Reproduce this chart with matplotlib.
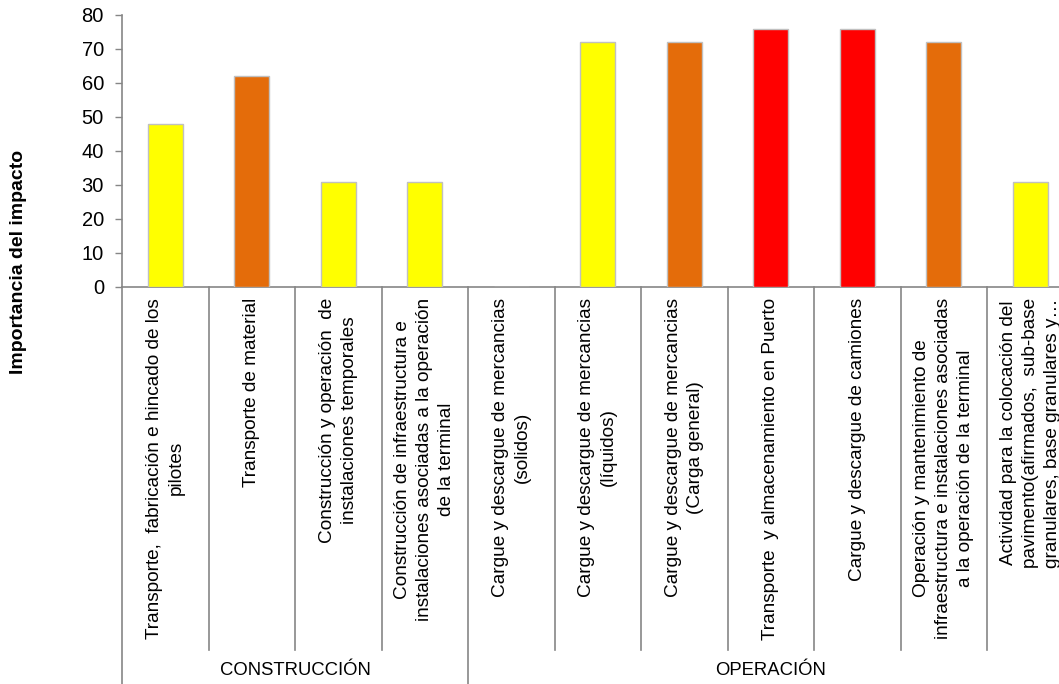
import matplotlib
matplotlib.use("Agg")
import matplotlib.pyplot as plt
import matplotlib.transforms as mtransforms

plt.rcParams['font.family'] = ['Liberation Sans', 'DejaVu Sans']

categories = [
    "Transporte,  fabricación e hincado de los\npilotes",
    "Transporte de material",
    "Construcción y operación  de\ninstalaciones temporales",
    "Construcción de infraestructura e\ninstalaciones asociadas a la operación\nde la terminal",
    "Cargue y descargue de mercancias\n(solidos)",
    "Cargue y descargue de mercancias\n(líquidos)",
    "Cargue y descargue de mercancias\n(Carga general)",
    "Transporte  y almacenamiento en Puerto",
    "Cargue y descargue de camiones",
    "Operación y mantenimiento de\ninfraestructura e instalaciones asociadas\na la operación de la terminal",
    "Actividad para la colocación del\npavimento(afirmados,  sub-base\ngranulares, base granulares y…",
]
values = [48, 62, 31, 31, 0, 72, 72, 76, 76, 72, 31]
bar_colors = ["#FFFF00", "#E46C0A", "#FFFF00", "#FFFF00", "#FFFF00", "#FFFF00",
              "#E46C0A", "#FF0000", "#FF0000", "#E46C0A", "#FFFF00"]
groups = ["CONSTRUCCIÓN", "OPERACIÓN"]
group_sizes = [4, 7]
y_ticks = [0, 10, 20, 30, 40, 50, 60, 70, 80]
y_label = "Importancia del impacto"

W, H = 1059, 684
fig = plt.figure(figsize=(W / 100, H / 100), dpi=100)
ax_left, ax_right, ax_top, ax_bottom = 122, 1073.5, 15, 287
ax = fig.add_axes([ax_left / W, 1 - ax_bottom / H, (ax_right - ax_left) / W, (ax_bottom - ax_top) / H])

n = len(categories)
xs = list(range(n))
ax.bar(xs, values, width=0.405, color=bar_colors, edgecolor="#C0C0C0", linewidth=1.0, zorder=3)

ax.set_xlim(-0.5, n - 0.5)
ax.set_ylim(0, 80)
ax.set_yticks(y_ticks)
ax.tick_params(axis='y', direction='out', length=5, width=1, color="#868686", pad=8, labelsize=14.5)
ax.set_xticks([])
for s in ['top', 'right']:
    ax.spines[s].set_visible(False)
for s in ['left', 'bottom']:
    ax.spines[s].set_color("#868686")
    ax.spines[s].set_linewidth(1.2)

trans = mtransforms.blended_transform_factory(ax.transData, ax.transAxes)
px_per_axes = ax_bottom - ax_top
short_end = -(650 - ax_bottom) / px_per_axes
long_end = -(700 - ax_bottom) / px_per_axes

group_bounds = [-0.5]
acc = -0.5
for g in group_sizes:
    acc += g
    group_bounds.append(acc)

for k in range(n + 1):
    xb = -0.5 + k
    end = long_end if any(abs(xb - gb) < 1e-9 for gb in group_bounds) else short_end
    ax.plot([xb, xb], [0, end], color="#868686", linewidth=1.2, transform=trans, clip_on=False)

label_top = -(298 - ax_bottom) / px_per_axes
for i, lab in enumerate(categories):
    ax.text(i, label_top, lab, rotation=90, ha='center', va='top', multialignment='center',
            fontsize=13.7, transform=trans, linespacing=1.38, clip_on=False)

group_y = -(671 - ax_bottom) / px_per_axes
start = -0.5
for g, size in zip(groups, group_sizes):
    ax.text(start + size / 2, group_y, g, ha='center', va='center', fontsize=13.3, transform=trans)
    start += size

fig.text(19 / W, 1 - 262 / H, y_label, rotation=90, ha='center', va='center',
         fontsize=14, fontweight='bold')

fig.savefig("out.png", dpi=100)
